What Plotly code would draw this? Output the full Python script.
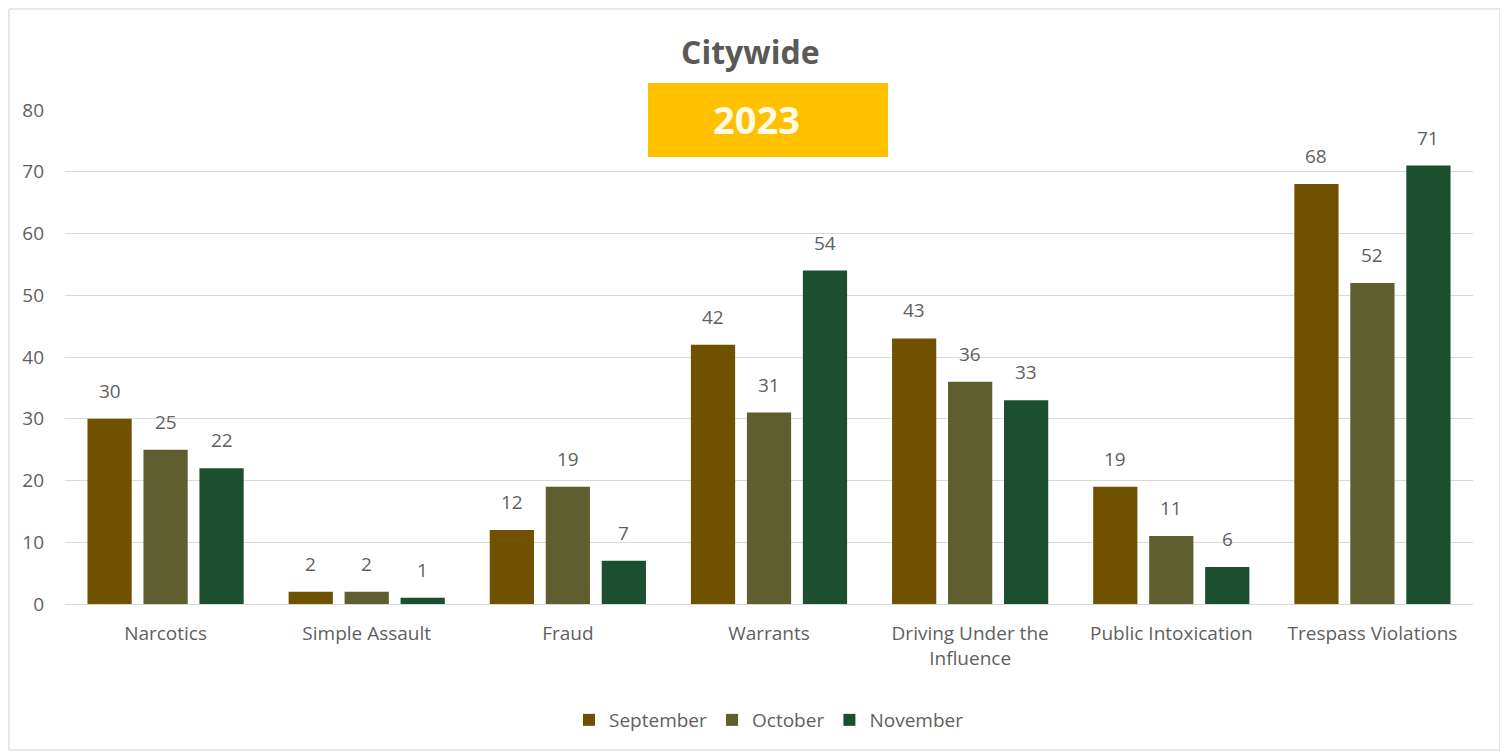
import plotly.graph_objects as go

categories = ["Narcotics", "Simple Assault", "Fraud", "Warrants",
              "Driving Under the<br>Influence", "Public Intoxication", "Trespass Violations"]
september = [30, 2, 12, 42, 43, 19, 68]
october = [25, 2, 19, 31, 36, 11, 52]
november = [22, 1, 7, 54, 33, 6, 71]
series_names = ["September", "October", "November"]
colors = ["#6f5100", "#5e5e2e", "#1b4f2f"]

font_family = "'Open Sans', sans-serif"
gray = "#5f5f5f"

# page body adds an 8px offset; plot area target: x 65..1473, y 110..604 (screen)
L, T = 57, 102
W, H = 1500, 747
R, B = 35, 151
pw, ph = 1408, 494
bargap = 0.165
slot = pw / len(categories) * (1 - bargap) / 3


def px(xs):
    return (xs - 65) / pw


def py(ys):
    return (604 - ys) / ph


fig = go.Figure()
annotations = []
for i, (name, vals, col) in enumerate(zip(series_names, [september, october, november], colors)):
    fig.add_trace(go.Bar(
        x=categories, y=vals, name=name,
        marker=dict(color=col, line=dict(width=0)),
        cliponaxis=False,
    ))
    for c, v in zip(categories, vals):
        annotations.append(dict(
            x=c, y=v, xref="x", yref="y", text=str(v), showarrow=False,
            xshift=(i - 1) * slot, yshift=13, yanchor="bottom", xanchor="center",
            font=dict(size=19, color=gray, family=font_family)))

annotations += [
    dict(text="<b>Citywide</b>", xref="paper", yref="paper",
         x=px(750), y=py(52), showarrow=False,
         font=dict(size=32, color="#595959", family=font_family), xanchor="center", yanchor="middle"),
    dict(text="<b>2023</b>", xref="paper", yref="paper",
         x=px(756), y=py(119), showarrow=False,
         font=dict(size=38, color="#fffbe6", family=font_family), xanchor="center", yanchor="middle"),
]

fig.update_layout(
    width=W, height=H,
    paper_bgcolor="white", plot_bgcolor="white",
    margin=dict(l=L, r=R, t=T, b=B),
    barmode="group", bargap=bargap, bargroupgap=0.21,
    font=dict(family=font_family, color=gray, size=19),
    showlegend=True,
    legend=dict(orientation="h", x=0.5, xanchor="center", y=py(720), yanchor="middle",
                font=dict(size=19, color=gray), itemwidth=30, traceorder="normal"),
    xaxis=dict(showgrid=False, showline=True, linecolor="#d9d9d9", linewidth=1,
               ticks="", tickfont=dict(size=19, color=gray), ticklabelstandoff=12),
    yaxis=dict(range=[0, 80], dtick=10, showgrid=True, gridcolor="#d9d9d9", gridwidth=1,
               zeroline=False, showline=False, ticks="", tickfont=dict(size=19, color=gray),
               ticklabelstandoff=20),
    shapes=[
        dict(type="rect", xref="paper", yref="paper", x0=px(9), x1=px(1500), y0=py(750), y1=py(9),
             line=dict(color="#d0d0d0", width=1), fillcolor="rgba(0,0,0,0)", layer="below"),
        dict(type="rect", xref="paper", yref="paper",
             x0=px(648), x1=px(888), y0=py(157), y1=py(83),
             fillcolor="#FFC000", line=dict(width=0), layer="above"),
    ],
    annotations=annotations,
)

fig.write_html("out.html")
